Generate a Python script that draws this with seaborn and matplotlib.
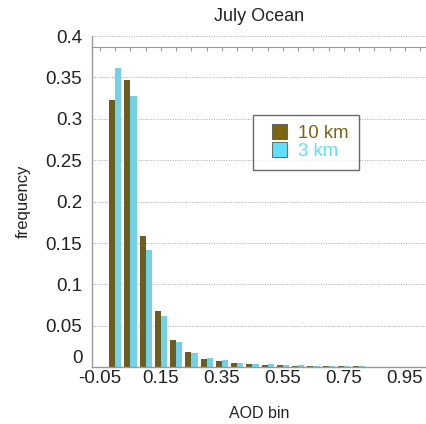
import seaborn as sns
import matplotlib.pyplot as plt
import pandas as pd
from matplotlib.patches import Patch, Rectangle
from matplotlib.legend_handler import HandlerPatch

# AOD bin centres and frequencies
aod_bins = [0.0, 0.05, 0.1, 0.15, 0.2, 0.25, 0.3, 0.35, 0.4, 0.45, 0.5,
            0.55, 0.6, 0.65, 0.7, 0.75, 0.8, 0.85, 0.9, 0.95, 1.0]
freq_10km = [0.323, 0.347, 0.159, 0.068, 0.033, 0.018, 0.010, 0.007, 0.005, 0.004, 0.003,
             0.0025, 0.002, 0.0018, 0.0015, 0.0012, 0.001, 0.0008, 0.0007, 0.0005, 0.0004]
freq_3km = [0.361, 0.328, 0.141, 0.062, 0.030, 0.017, 0.011, 0.0085, 0.0055, 0.0042, 0.0035,
            0.003, 0.0025, 0.002, 0.0016, 0.0013, 0.001, 0.0008, 0.0006, 0.0005, 0.0004]
series = ["10 km", "3 km"]
xtick_values = [-0.05, 0.15, 0.35, 0.55, 0.75, 0.95]
xtick_labels = ["-0.05", "0.15", "0.35", "0.55", "0.75", "0.95"]

c10 = "#7a6410"
c3 = "#5ee0fc"

df = pd.DataFrame({
    "bin": aod_bins * 2,
    "freq": freq_10km + freq_3km,
    "res": [series[0]] * len(aod_bins) + [series[1]] * len(aod_bins),
})

sns.set_style("white")
plt.rcParams["font.family"] = ["Liberation Sans", "DejaVu Sans"]

fig = plt.figure(figsize=(4.26, 4.24), dpi=100)
ax = fig.add_axes([0.216, 0.134, 0.784, 0.781])

sns.barplot(data=df, x="bin", y="freq", hue="res", native_scale=True,
            palette=[c10, c3], width=0.8, linewidth=0, legend=False, ax=ax)

ax.set_xlim(-0.076, 1.019)
ax.set_ylim(0, 0.4)
ax.set_yticks([i * 0.05 for i in range(9)])
ax.set_yticklabels(["0", "0.05", "0.1", "0.15", "0.2", "0.25", "0.3", "0.35", "0.4"])
ax.set_xticks(xtick_values)
ax.set_xticklabels(xtick_labels)
ax.set_xticks([-0.05 + 0.05 * i for i in range(22)], minor=True)
ax.tick_params(axis="both", which="major", direction="in", length=3, color="#999999",
               labelsize=13.5, labelcolor="#222222")
ax.tick_params(axis="y", pad=7)
ax.tick_params(axis="x", pad=2)
ax.tick_params(axis="x", which="minor", direction="in", length=3, color="#999999")
ax.yaxis.grid(True, linestyle=(0, (1, 1.5)), color="#aaaaaa", linewidth=0.7)
ax.set_axisbelow(True)
# the "0" label sits a little higher, clear of "-0.05"
ax.get_yticklabels()[0].set_verticalalignment("bottom")

for s in ["top", "right"]:
    ax.spines[s].set_visible(False)
for s in ["left", "bottom"]:
    ax.spines[s].set_color("#999999")
    ax.spines[s].set_linewidth(1)

# solid line with ticks just below the top
top = ax.secondary_xaxis(0.967)
top.set_xticks([-0.05 + 0.05 * i for i in range(22)])
top.set_xticklabels([])
top.tick_params(direction="in", length=3, color="#999999")
top.spines["top"].set_color("#999999")

ax.set_title("July Ocean", fontsize=13, pad=11, color="#222222")
ax.set_xlabel("AOD bin", fontsize=11.5, labelpad=14, color="#222222")
ax.set_ylabel("frequency", fontsize=12, labelpad=11, color="#222222")


def square_patch(legend, orig_handle, xdescent, ydescent, width, height, fontsize):
    side = height * 1.1
    return Rectangle((width - side - xdescent, -ydescent - (side - height) / 2), side, side)


handles = [Patch(facecolor=c10, edgecolor="#555555", linewidth=0.6),
           Patch(facecolor=c3, edgecolor="#555555", linewidth=0.6)]
leg = ax.legend(handles, series, loc="upper left", bbox_to_anchor=(0.482, 0.762),
                fontsize=13.4, frameon=True, fancybox=False, handlelength=1.3,
                handleheight=0.75, handletextpad=0.55, labelspacing=0.0,
                borderpad=0.55, borderaxespad=0,
                handler_map={Patch: HandlerPatch(patch_func=square_patch)})
leg.get_frame().set_edgecolor("#444444")
leg.get_frame().set_linewidth(1)
for txt, col in zip(leg.get_texts(), [c10, c3]):
    txt.set_color(col)

fig.savefig("out.png", dpi=100)
